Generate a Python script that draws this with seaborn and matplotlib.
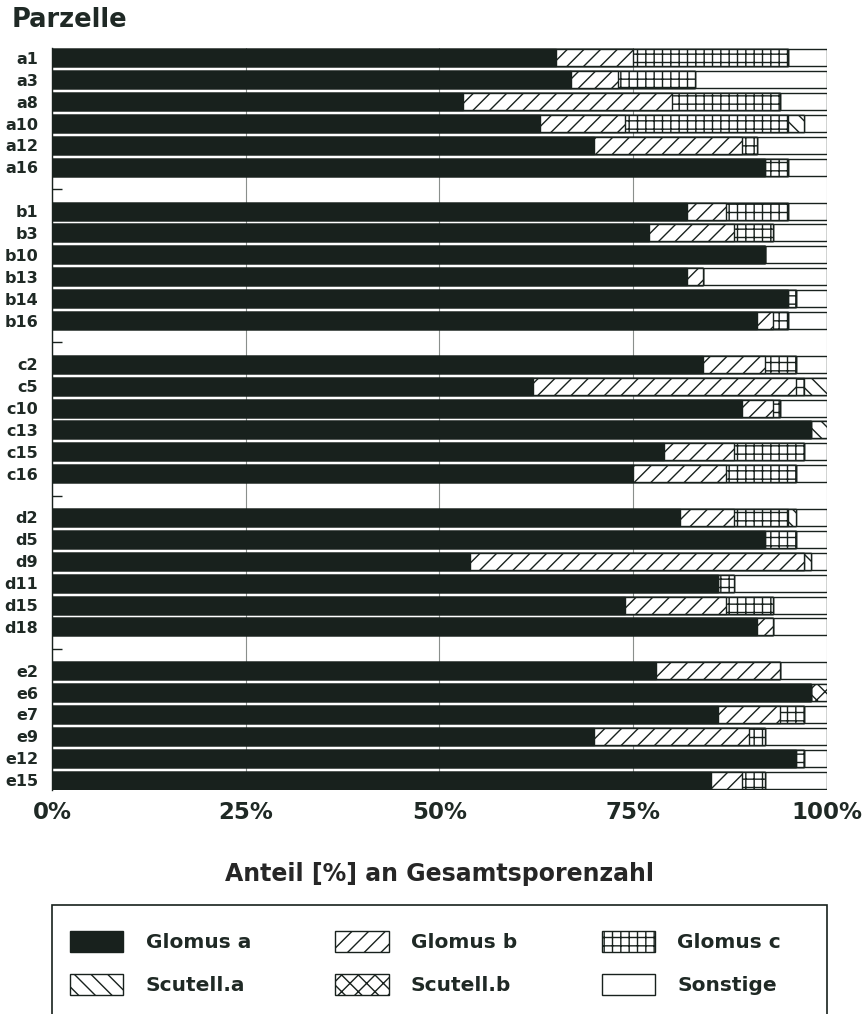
import matplotlib
matplotlib.use("Agg")
import matplotlib.pyplot as plt
from matplotlib.patches import Patch, Rectangle
import numpy as np
import pandas as pd
import seaborn as sns

# Plots (Parzellen), grouped by site letter
groups = ["a", "b", "c", "d", "e"]
plots_a = ["a1", "a3", "a8", "a10", "a12", "a16"]
plots_b = ["b1", "b3", "b10", "b13", "b14", "b16"]
plots_c = ["c2", "c5", "c10", "c13", "c15", "c16"]
plots_d = ["d2", "d5", "d9", "d11", "d15", "d18"]
plots_e = ["e2", "e6", "e7", "e9", "e12", "e15"]

species = ["Glomus a", "Glomus b", "Glomus c", "Scutell.a", "Scutell.b", "Sonstige"]

# Share of total spore count [%] per plot
glomus_a = [65, 67, 53, 63, 70, 92,
            82, 77, 92, 82, 95, 91,
            84, 62, 89, 98, 79, 75,
            81, 92, 54, 86, 74, 91,
            78, 98, 86, 70, 96, 85]
glomus_b = [10, 6, 27, 11, 19, 0,
            5, 11, 0, 2, 0, 2,
            8, 34, 4, 0, 9, 12,
            7, 0, 43, 0, 13, 2,
            16, 0, 8, 20, 0, 4]
glomus_c = [20, 10, 14, 21, 2, 3,
            8, 5, 0, 0, 1, 2,
            4, 1, 1, 0, 9, 9,
            7, 4, 0, 2, 6, 0,
            0, 0, 3, 2, 1, 3]
scutell_a = [0, 0, 0, 2, 0, 0,
             0, 0, 0, 0, 0, 0,
             0, 3, 0, 2, 0, 0,
             1, 0, 1, 0, 0, 0,
             0, 0, 0, 0, 0, 0]
scutell_b = [0, 0, 0, 0, 0, 0,
             0, 0, 0, 0, 0, 0,
             0, 0, 0, 0, 0, 0,
             0, 0, 0, 0, 0, 0,
             0, 2, 0, 0, 0, 0]
sonstige = [5, 17, 6, 3, 9, 5,
            5, 7, 8, 16, 4, 5,
            4, 0, 6, 0, 3, 4,
            4, 4, 2, 12, 7, 7,
            6, 0, 3, 8, 3, 8]

x_ticks = [0, 25, 50, 75, 100]
x_ticklabels = ["0%", "25%", "50%", "75%", "100%"]

dark = "#18211d"
text_col = "#1f2925"

sns.set_theme(style="white")
plt.rcParams["font.family"] = ["DejaVu Sans"]
plt.rcParams["font.weight"] = "bold"
plt.rcParams["hatch.linewidth"] = 1.0
plt.rcParams["hatch.color"] = dark
plt.rcParams["text.color"] = text_col
plt.rcParams["xtick.color"] = text_col
plt.rcParams["ytick.color"] = text_col

labels = plots_a + plots_b + plots_c + plots_d + plots_e
# one blank row between site groups
positions = [g * 7 + r for g in range(5) for r in range(6)]
gap_positions = [g * 7 + 6 for g in range(4)]

df = pd.DataFrame({
    "plot": labels,
    "pos": positions,
    "Glomus a": glomus_a,
    "Glomus b": glomus_b,
    "Glomus c": glomus_c,
    "Scutell.a": scutell_a,
    "Scutell.b": scutell_b,
    "Sonstige": sonstige,
})

styles = {
    "Glomus a": dict(color=dark, hatch=None),
    "Glomus b": dict(color="white", hatch="//"),
    "Glomus c": dict(color="white", hatch="++"),
    "Scutell.a": dict(color="white", hatch="\\\\"),
    "Scutell.b": dict(color="white", hatch="xx"),
    "Sonstige": dict(color="white", hatch=None),
}

fig = plt.figure(figsize=(8.67, 10.14), dpi=100)
ax = fig.add_axes([52 / 867, 1 - 790 / 1014, 775 / 867, 742 / 1014])

# stacked bars: draw cumulative totals from the outermost segment inwards
cum = df[species].cumsum(axis=1)
for sp in reversed(species):
    st = styles[sp]
    sns.barplot(x=cum[sp], y=df["pos"], orient="h", native_scale=True,
                color=st["color"], saturation=1, hatch=st["hatch"],
                edgecolor=dark, linewidth=1.0, width=0.78,
                errorbar=None, ax=ax, zorder=2)

ax.set_xlim(0, 100)
ax.set_ylim(33.45, -0.45)

ax.set_xticks(x_ticks)
ax.set_xticklabels(x_ticklabels, fontsize=16.5, fontweight="bold")
ax.tick_params(axis="x", length=0, pad=8)

ax.set_yticks(positions)
ax.set_yticklabels(labels, fontsize=11.5, fontweight="bold")
ax.tick_params(axis="y", which="major", length=0, pad=10)
ax.set_yticks(gap_positions, minor=True)
ax.tick_params(axis="y", which="minor", direction="in", length=7, width=1, color=dark, left=True)
# small outward tick at the first plot
t0 = ax.yaxis.get_major_ticks()[0]
t0.tick1line.set_markersize(6)
t0.tick1line.set_markeredgewidth(1)

ax.set_xlabel("Anteil [%] an Gesamtsporenzahl", fontsize=17, fontweight="bold", labelpad=27)
ax.set_ylabel("")

ax.grid(axis="x", color="#8a8f8c", linewidth=0.8)
ax.grid(axis="y", visible=False)
ax.set_axisbelow(True)
for side in ["top", "right", "bottom"]:
    ax.spines[side].set_visible(False)
ax.spines["left"].set_color(dark)
ax.spines["left"].set_linewidth(1.0)

fig.text(12 / 867, 1 - 20 / 1014, "Parzelle", fontsize=18.5, fontweight="bold",
         ha="left", va="center")

# legend frame, open at the bottom edge of the figure
fig.patches.append(Rectangle((52 / 867, -0.05), 775 / 867, 0.05 + (1014 - 905) / 1014,
                             transform=fig.transFigure, fill=False,
                             edgecolor=dark, linewidth=1.2))

handles = []
for sp in ["Glomus a", "Scutell.a", "Glomus b", "Scutell.b", "Glomus c", "Sonstige"]:
    st = styles[sp]
    handles.append(Patch(facecolor=st["color"], hatch=st["hatch"], edgecolor=dark,
                         linewidth=1.0, label=sp))
fig.legend(handles=handles, ncol=3, loc="upper left",
           bbox_to_anchor=(70 / 867, 1 - 931 / 1014), frameon=False,
           prop=dict(size=14.5, weight="bold"), handlelength=2.65, handleheight=1.2,
           handletextpad=1.1, labelspacing=1.1, columnspacing=4.2,
           borderpad=0, borderaxespad=0)

fig.savefig("out.png", dpi=100)
